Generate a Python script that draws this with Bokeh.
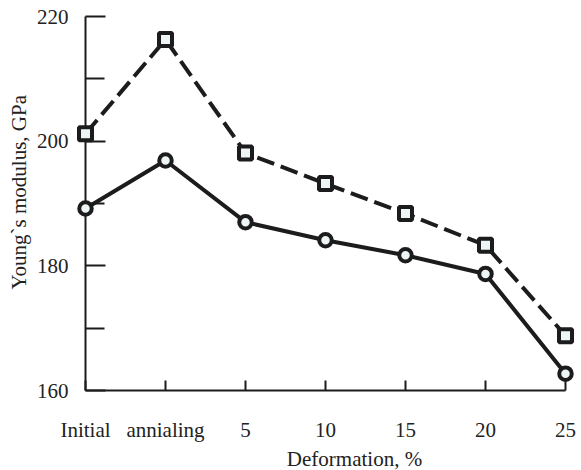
from bokeh.plotting import figure
from bokeh.models import Range1d, FixedTicker
from bokeh.core.properties import value
from bokeh.embed import file_html
from bokeh.resources import INLINE
import math

categories = ["Initial", "annialing", "5", "10", "15", "20", "25"]
modulus_squares = [201.2, 216.3, 198.1, 193.2, 188.4, 183.3, 168.8]
modulus_circles = [189.2, 196.9, 187.0, 184.1, 181.7, 178.7, 162.7]
y_major = [160, 180, 200, 220]
y_minor = [170, 190, 210]
x_title = "Deformation, %"
y_title = "Young`s modulus, GPa"

xs = list(range(len(categories)))

FONT = "Liberation Serif"
INK = "#1c1c1c"
TXT = "#222222"
FILL = "#eef5f7"

p = figure(width=581, height=470,
           x_range=Range1d(xs[0], xs[-1]), y_range=Range1d(y_major[0], y_major[-1]),
           output_backend="svg", toolbar_location=None,
           min_border_left=85, min_border_right=16,
           min_border_top=16, min_border_bottom=80)
p.title.visible = False
p.outline_line_color = None
p.xgrid.visible = False
p.ygrid.visible = False
p.background_fill_color = "white"
p.border_fill_color = "white"

# lines
r1 = p.line(xs, modulus_squares, line_color=INK, line_width=4, line_dash="18 7")
r2 = p.line(xs, modulus_circles, line_color=INK, line_width=4)
# markers
r3 = p.scatter(xs, modulus_squares, marker="square", size=13, line_width=4,
               line_color=INK, fill_color=FILL)
r4 = p.scatter(xs, modulus_circles, marker="circle", size=12.5, line_width=4,
               line_color=INK, fill_color=FILL)

# axis titles drawn as text glyphs placed outside the frame
r5 = p.text(x=[3.3625], y=[149.0], text=[x_title], text_align="center",
            text_baseline="alphabetic", text_font=value(FONT),
            text_font_size=value("21px"), text_color=TXT)
r6 = p.text(x=[-0.83], y=[191.8], text=[y_title], angle=math.pi / 2,
            text_align="center", text_baseline="alphabetic",
            text_font=value(FONT), text_font_size=value("21px"), text_color=TXT)
for r in (r1, r2, r3, r4, r5, r6):
    r.level = "overlay"

# y axis
ya = p.yaxis[0]
ya.ticker = FixedTicker(ticks=y_major, minor_ticks=y_minor)
ya.axis_line_color = INK
ya.axis_line_width = 2
ya.major_tick_in = 20
ya.major_tick_out = 0
ya.minor_tick_in = 19
ya.minor_tick_out = 0
ya.major_tick_line_width = 2
ya.minor_tick_line_width = 2
ya.major_tick_line_color = INK
ya.minor_tick_line_color = INK
ya.major_label_standoff = 17
ya.major_label_text_font = FONT
ya.major_label_text_font_size = "21px"
ya.major_label_text_color = TXT

# x axis
xa = p.xaxis[0]
xa.ticker = FixedTicker(ticks=xs)
xa.major_label_overrides = {i: c for i, c in zip(xs, categories)}
xa.axis_line_color = INK
xa.axis_line_width = 2
xa.major_tick_in = 10
xa.major_tick_out = 0
xa.major_tick_line_width = 2
xa.major_tick_line_color = INK
xa.minor_tick_line_color = None
xa.major_label_standoff = 27
xa.major_label_text_font = FONT
xa.major_label_text_font_size = "21px"
xa.major_label_text_color = TXT

open("out.html", "w").write(file_html(p, INLINE))
